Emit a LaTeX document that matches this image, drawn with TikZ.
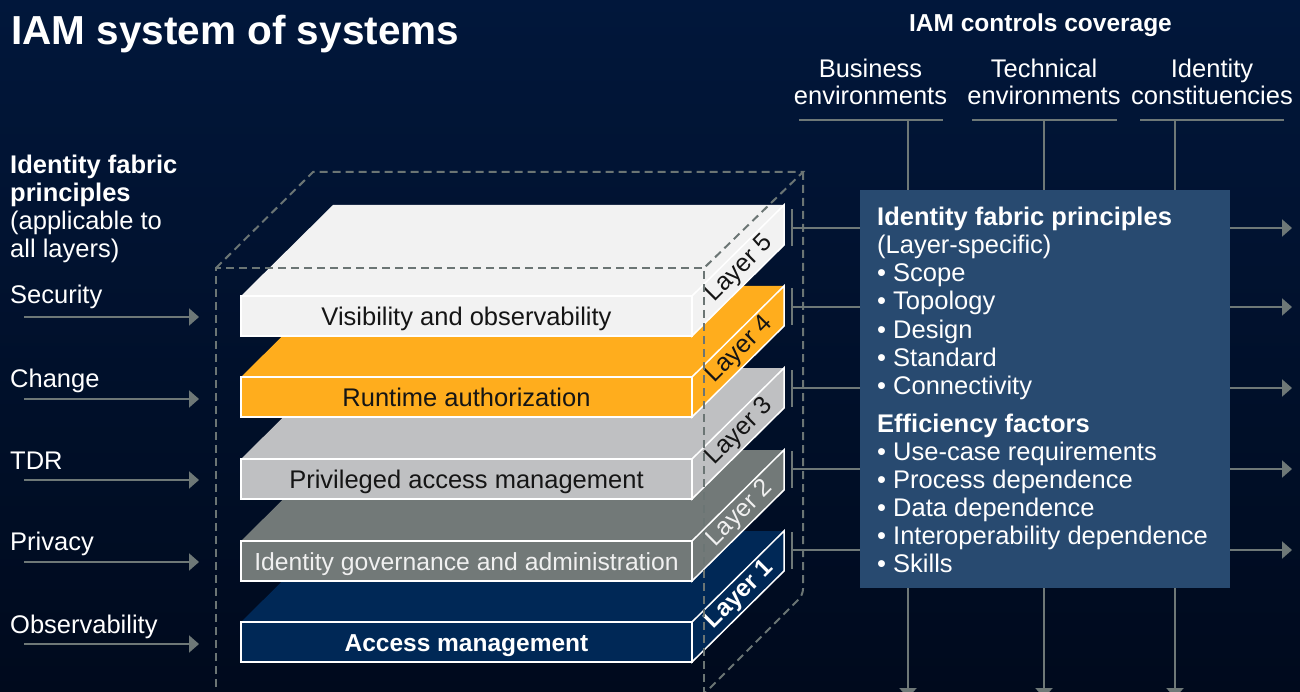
\documentclass[tikz,border=0pt]{standalone}
\usepackage{fontspec}
\setmainfont{Liberation Sans}
\usetikzlibrary{arrows.meta}
\definecolor{bgtop}{HTML}{01173B}
\definecolor{bgbot}{HTML}{000A1D}
\definecolor{boxblue}{HTML}{284A70}
\definecolor{conncol}{HTML}{6E7877}
\definecolor{dashcol}{HTML}{6B7574}
\definecolor{lfive}{HTML}{F2F2F2}
\definecolor{lfour}{HTML}{FFAD1D}
\definecolor{lthree}{HTML}{BFC0C2}
\definecolor{ltwo}{HTML}{727978}
\definecolor{lone}{HTML}{002856}
\definecolor{darktext}{HTML}{151515}
\definecolor{lighttext}{HTML}{F0F0F0}
\newcommand\bodyfont{\fontsize{25.5pt}{28pt}\selectfont}
\newcommand\drawslab[7]{%
  \fill[#2] (241,#1) -- (333,#1-91) -- (784,#1-91) -- (692,#1) -- cycle;
  \draw[slabline, fill=#2] (692,#1) -- (784,#1-91) -- (784,#1-51) -- (692,#1+40) -- cycle;
  \draw[slabline, fill=#2] (241,#1) rectangle (692,#1+40);
  \node[body, text=#3, anchor=base, #7] (#4) at (466.5,#1+29.5) {#5};
  \node[body, text=#3, rotate=45, font=\fontsize{25pt}{28pt}\selectfont, #7] (#4lab) at (740,#1-27) {#6};
}
\begin{document}
\begin{tikzpicture}[x=1pt,y=-1pt,
  body/.style={font=\bodyfont, text=white, inner sep=0pt},
  bodyb/.style={font=\bodyfont\bfseries, text=white, inner sep=0pt},
  conn/.style={draw=conncol, line width=2pt},
  arr/.style={conn, -{Triangle[length=10pt,width=17pt]}},
  dsh/.style={draw=dashcol, line width=2pt, dash pattern=on 8pt off 5pt},
  slabline/.style={draw=white, line width=1.5pt, line join=miter},
  tick/.style={fill=conncol, inner sep=0pt, minimum width=2pt, minimum height=37pt}
]
\path[use as bounding box] (0,0) rectangle (1300,692);
\shade[top color=bgtop, bottom color=bgbot] (0,0) rectangle (1300,692);

% title
\node[anchor=base west, font=\fontsize{40.5pt}{44pt}\selectfont\bfseries, text=white, inner sep=0pt] (title) at (11,45) {IAM system of systems};

% left column
\node[bodyb, anchor=base west] (lf1) at (10,174) {Identity fabric};
\node[bodyb, anchor=base west] (lf2) at (10,202) {principles};
\node[body, anchor=base west] (lf3) at (10,230) {(applicable to};
\node[body, anchor=base west] (lf4) at (10,258) {all layers)};
\foreach \t/\yb/\ya [count=\i] in {Security/304/317, Change/387/399, TDR/469/480, Privacy/550/562, Observability/633/644}{
  \node[body, anchor=base west] (pr\i) at (10,\yb) {\t};
  \coordinate (pa\i) at (24,\ya);
  \coordinate (pb\i) at (199,\ya);
  \draw[arr] (pa\i) -- (pb\i);
}

% slabs (bottom to top)
\drawslab{622}{lone}{white}{slab1}{Access management}{Layer 1}{font=\fontsize{24.5pt}{28pt}\selectfont\bfseries}
\drawslab{541}{ltwo}{lighttext}{slab2}{Identity governance and administration}{Layer 2}{font=\fontsize{24.7pt}{28pt}\selectfont}
\drawslab{459}{lthree}{darktext}{slab3}{Privileged access management}{Layer 3}{}
\drawslab{377}{lfour}{darktext}{slab4}{Runtime authorization}{Layer 4}{}
\drawslab{296}{lfive}{darktext}{slab5}{Visibility and observability}{Layer 5}{}

% dashed cube
\draw[dsh] (216,700) -- (216,268) -- (704,268) -- (704,700);
\draw[dsh] (216,268) -- (313,172) -- (803,172) -- (704,268);
\draw[dsh, rounded corners=6pt] (803,172) -- (803,595) -- (700,698);

% right box
\node[fill=boxblue, minimum width=370pt, minimum height=398pt, inner sep=0pt, anchor=north west] (box) at (860,190) {};

% top headings
\node[bodyb, anchor=base, font=\fontsize{24.5pt}{28pt}\selectfont\bfseries] (cov) at (1040.5,32) {IAM controls coverage};
\node[body, anchor=base] (h1a) at (870.5,78) {Business};
\node[body, anchor=base] (h1b) at (870.5,105) {environments};
\node[body, anchor=base] (h2a) at (1044,78) {Technical};
\node[body, anchor=base] (h2b) at (1044,105) {environments};
\node[body, anchor=base] (h3a) at (1212,78) {Identity};
\node[body, anchor=base] (h3b) at (1212,105) {constituencies};
\draw[conn] (799,120) -- (943,120);
\draw[conn] (972,120) -- (1117,120);
\draw[conn] (1140,120) -- (1284,120);
\foreach \x [count=\i] in {908,1044,1175}{
  \coordinate (ct\i) at (\x,120);
  \coordinate (cb\i) at (\x,698);
  \draw[conn] (ct\i) -- (ct\i |- box.north);
  \draw[arr] (ct\i |- box.south) -- (cb\i);
}

% layer connectors
\foreach \y [count=\i] in {228,307,388,469,550}{
  \node[tick] (tk\i) at (792,\y) {};
  \draw[conn] (tk\i.center) -- (tk\i.center -| box.west);
  \coordinate (ro\i) at (1292,\y);
  \draw[arr] (tk\i.center -| box.east) -- (ro\i);
}

% box text
\node[bodyb, anchor=base west] (bx1) at (877,226) {Identity fabric principles};
\node[body, anchor=base west] (bx2) at (877,254) {(Layer-specific)};
\foreach \t/\yb [count=\i] in {Scope/282, Topology/310, Design/338, Standard/366, Connectivity/394}{
  \node[body, anchor=base west] (bp\i) at (877,\yb) {• \t};
}
\node[bodyb, anchor=base west] (bx3) at (877,432) {Efficiency factors};
\foreach \t/\yb [count=\i] in {Use-case requirements/460, Process dependence/488, Data dependence/516, Interoperability dependence/544, Skills/572}{
  \node[body, anchor=base west] (be\i) at (877,\yb) {• \t};
}
\end{tikzpicture}
\end{document}
